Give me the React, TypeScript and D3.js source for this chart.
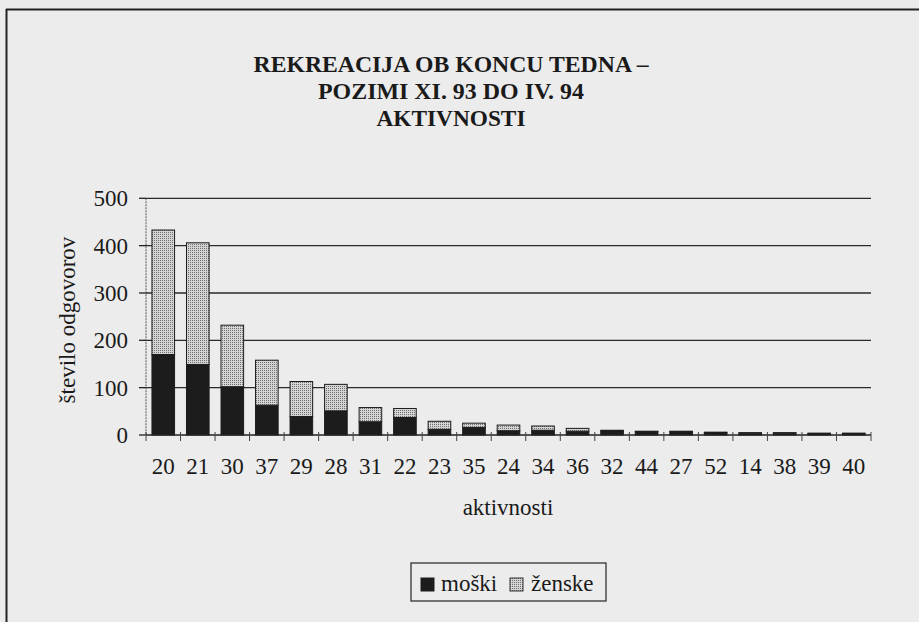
import React from "react";
import * as d3 from "d3";

const categories = ["20","21","30","37","29","28","31","22","23","35","24","34","36","32","44","27","52","14","38","39","40"];
const moski = [170,149,102,63,39,51,28,37,12,16,9,10,8,9,7,7,5,4,4,3,3];
const zenske = [263,257,130,95,74,56,30,19,17,9,12,9,6,1,1,1,1,1,1,1,1];
const yTicks = [0,100,200,300,400,500];
const titleLines = ["REKREACIJA OB KONCU TEDNA –", "POZIMI XI. 93 DO IV. 94", "AKTIVNOSTI"];
const titleWidths = [395, 266, 149];

const W = 919, H = 622;
const FONT = "'Liberation Serif', 'Times New Roman', serif";

export default function App() {
  const x = d3.scaleBand<string>().domain(categories).range([146, 871]).paddingInner(0.345).paddingOuter(0.1725);
  const y = d3.scaleLinear().domain([0, 500]).range([435, 198.3]);
  const step = x.step();
  const boundaries = d3.range(categories.length + 1).map(i => 146 + i * step);
  const stack = d3.stack<number>().keys(["m", "z"]).value((i, k) => (k === "m" ? moski[i] : zenske[i]));
  const series = stack(d3.range(categories.length));

  return (
    <svg width={W} height={H} style={{ position: "absolute", left: 0, top: 0, background: "#ececec" }} fontFamily={FONT}>
      <defs>
        <pattern id="stip" width="2" height="2" patternUnits="userSpaceOnUse">
          <rect width="2" height="2" fill="#d4d4d4" />
          <rect width="1" height="1" fill="#707070" />
        </pattern>
      </defs>
      <rect x={0} y={0} width={W} height={H} fill="#ececec" />
      {/* frame */}
      <line x1={6.5} y1={9} x2={6.5} y2={H} stroke="#222" strokeWidth={2} />
      <line x1={6} y1={9.5} x2={W} y2={9.5} stroke="#222" strokeWidth={2} />
      {/* title */}
      {titleLines.map((t, i) => (
        <text key={t} x={451} y={72 + i * 27} textAnchor="middle" fontWeight="bold" fontSize={23.5}
          textLength={titleWidths[i]} lengthAdjust="spacingAndGlyphs" fill="#1a1a1a">{t}</text>
      ))}
      {/* gridlines */}
      {yTicks.filter(v => v > 0).map(v => (
        <line key={v} x1={146} x2={871} y1={y(v)} y2={y(v)} stroke="#2a2a2a" strokeWidth={1.3} />
      ))}
      {/* y axis */}
      <line x1={146} x2={146} y1={y(500)} y2={y(0)} stroke="#555" strokeWidth={1} strokeDasharray="2,1" />
      {yTicks.map(v => (
        <g key={v}>
          <line x1={139} x2={146} y1={y(v)} y2={y(v)} stroke="#222" strokeWidth={1.3} />
          <text x={128} y={y(v) + 8} textAnchor="end" fontSize={23} fill="#1a1a1a">{v}</text>
        </g>
      ))}
      <text transform={`translate(75,320) rotate(-90)`} textAnchor="middle" fontSize={23} fill="#1a1a1a">število odgovorov</text>
      {/* bars */}
      {series.map(s => s.map((d, i) => (
        <rect key={s.key + i} x={x(categories[i])} width={x.bandwidth()} y={y(d[1])} height={Math.max(0, y(d[0]) - y(d[1]))}
          fill={s.key === "m" ? "#1c1c1c" : "url(#stip)"} stroke="#1c1c1c" strokeWidth={1} />
      )))}
      {/* x axis */}
      <line x1={146} x2={871} y1={y(0)} y2={y(0)} stroke="#222" strokeWidth={1.5} />
      {boundaries.map((b, i) => (
        <line key={i} x1={b} x2={b} y1={y(0) - 3} y2={y(0) + 6} stroke="#444" strokeWidth={1} />
      ))}
      {categories.map(c => (
        <text key={c} x={(x(c) as number) + x.bandwidth() / 2} y={474} textAnchor="middle" fontSize={23} fill="#1a1a1a">{c}</text>
      ))}
      <text x={508} y={515} textAnchor="middle" fontSize={23} fill="#1a1a1a">aktivnosti</text>
      {/* legend */}
      <rect x={411} y={563} width={195} height={38} fill="none" stroke="#333" strokeWidth={1.3} />
      <rect x={421} y={578} width={13} height={13} fill="#1c1c1c" stroke="#1c1c1c" />
      <text x={441} y={591} fontSize={23} fill="#1a1a1a">moški</text>
      <rect x={510} y={578} width={13} height={13} fill="url(#stip)" stroke="#333" />
      <text x={531} y={591} fontSize={23} fill="#1a1a1a">ženske</text>
    </svg>
  );
}
